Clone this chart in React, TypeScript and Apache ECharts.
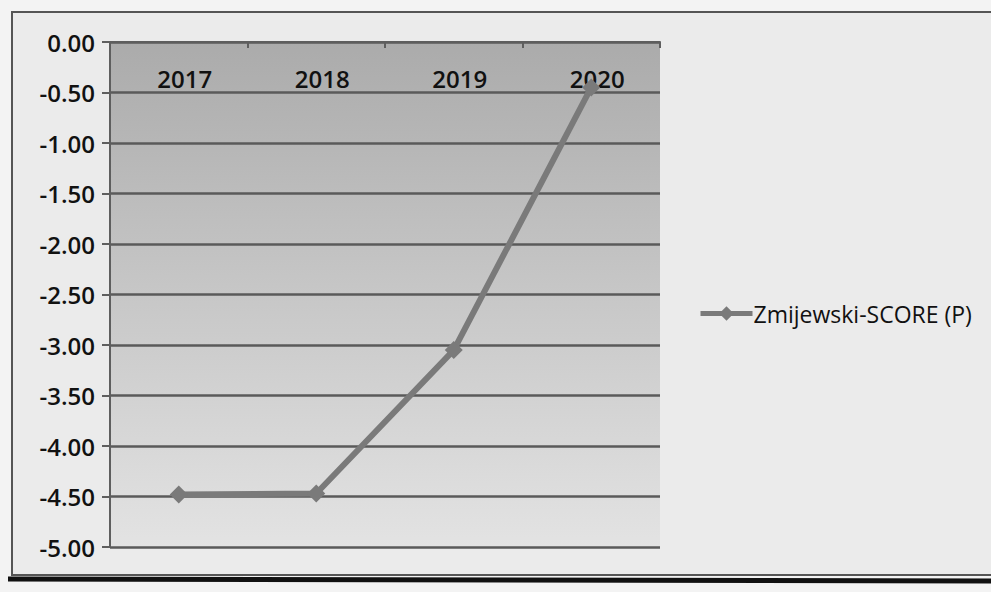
import React, { useEffect, useRef } from "react";
import * as echarts from "echarts";

const years = ["2017", "2018", "2019", "2020"];
const zmijewski = [-4.48, -4.47, -3.05, -0.45];
const seriesName = "Zmijewski-SCORE (P)";

export default function App() {
  const ref = useRef<HTMLDivElement>(null);
  useEffect(() => {
    if (!ref.current) return;
    const chart = echarts.init(ref.current, undefined, { renderer: "svg" });
    chart.setOption({
      animation: false,
      backgroundColor: "#f3f3f3",
      textStyle: { fontFamily: "Open Sans" },
      graphic: [
        {
          type: "rect",
          z: -100,
          shape: { x: 12, y: 12, width: 1000, height: 563 },
          style: { fill: "#ebebeb", stroke: "#555", lineWidth: 2 },
        },
        {
          type: "line",
          z: 100,
          shape: { x1: 8, y1: 579, x2: 991, y2: 581 },
          style: { stroke: "#111", lineWidth: 5 },
        },
      ],
      grid: {
        left: 110,
        right: 331,
        top: 42,
        bottom: 45,
        show: true,
        borderWidth: 0,
        backgroundColor: {
          type: "linear",
          x: 0,
          y: 0,
          x2: 0,
          y2: 1,
          colorStops: [
            { offset: 0, color: "#ababab" },
            { offset: 1, color: "#e3e3e3" },
          ],
        },
      },
      legend: {
        left: 693,
        top: 297,
        itemWidth: 52,
        itemHeight: 18,
        itemGap: 4,
        lineStyle: { width: 5 },
        textStyle: { fontSize: 23, fontWeight: 500, color: "#111", fontFamily: "Open Sans", padding: [0, 0, 0, -4] },
        data: [seriesName],
      },
      xAxis: {
        type: "category",
        position: "top",
        data: years,
        boundaryGap: true,
        axisLine: { show: true, lineStyle: { color: "#5e5e5e", width: 2 } },
        axisTick: { show: true, inside: true, length: 6, lineStyle: { color: "#5e5e5e", width: 2 } },
        axisLabel: {
          inside: true,
          margin: 24,
          fontSize: 24,
          fontWeight: 600,
          color: "#111",
          fontFamily: "Open Sans",
          padding: [0, 0, 0, 12],
        },
      },
      yAxis: {
        type: "value",
        min: -5,
        max: 0,
        interval: 0.5,
        axisLine: { show: true, lineStyle: { color: "#5e5e5e", width: 2 } },
        axisTick: { show: true, length: 8, lineStyle: { color: "#5e5e5e", width: 2 } },
        axisLabel: {
          margin: 15,
          fontSize: 24,
          fontWeight: 600,
          color: "#111",
          fontFamily: "Open Sans",
          formatter: (v: number) => v.toFixed(2),
        },
        splitLine: { show: true, lineStyle: { color: "#5a5a5a", width: 2.5 } },
      },
      series: [
        {
          name: seriesName,
          type: "line",
          data: zmijewski,
          symbol: "diamond",
          symbolSize: 18,
          itemStyle: { color: "#7a7a7a" },
          lineStyle: { color: "#7a7a7a", width: 6 },
        },
      ],
    });
    return () => chart.dispose();
  }, []);
  return (
    <div
      ref={ref}
      style={{ position: "fixed", left: 0, top: 0, width: 991, height: 592 }}
    />
  );
}
